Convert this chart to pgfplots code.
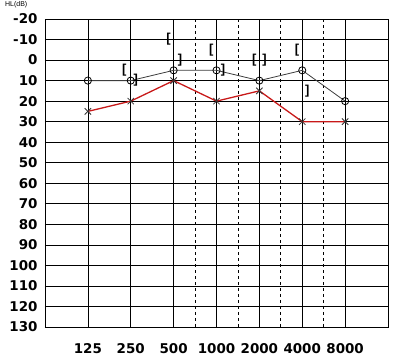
\documentclass[border=0pt]{standalone}
\usepackage{pgfplots}
\pgfplotsset{compat=1.18}
\usepackage{fontspec}
\setmainfont{Liberation Sans}
\newfontfamily\tickfont{DejaVu Sans}
\definecolor{rline}{RGB}{200,25,25}
\definecolor{gline}{RGB}{60,60,60}
\begin{document}
\begin{tikzpicture}
\useasboundingbox (0,0) rectangle (400bp,363bp);
\node[anchor=north west, font=\fontsize{7}{8}\selectfont, inner sep=0pt] at (5bp,362bp) {HL(dB)};
\begin{axis}[
  at={(45bp,36bp)}, anchor=south west,
  scale only axis, width=343bp, height=308bp,
  xmin=-1, xmax=7, ymin=-20, ymax=130,
  y dir=reverse,
  xtick={0,...,6},
  xticklabels={125,250,500,1000,2000,4000,8000},
  ytick={-20,-10,...,130},
  extra x ticks={2.5,3.5,4.5,5.5},
  extra x tick labels={},
  extra x tick style={grid style={dashed, black, line width=0.7pt}, major tick length=0pt},
  grid=major,
  grid style={black, line width=0.7pt},
  axis line style={black, line width=0.8pt},
  major tick length=0pt,
  tick label style={font=\fontsize{13.5}{16}\selectfont\tickfont\bfseries},
  /pgf/number format/assume math mode=true,
  xticklabel style={yshift=-13bp},
  yticklabel style={xshift=-4bp},
]
\addplot[gline, line width=0.8pt, mark=o, mark size=3.6pt, mark options={solid, black, line width=0.8pt}] coordinates {
(0,10) (1,10) (2,5) (3,5) (4,10) (5,5) (6,20)};
\addplot[rline, line width=1.3pt, mark=x, mark size=4.5pt, mark options={black!80, line width=0.8pt}] coordinates {
(0,25) (1,20) (2,10) (3,20) (4,15) (5,30) (6,30)};
\addplot[only marks, mark=text, text mark={\fontsize{13}{14}\selectfont\bfseries [}] coordinates {
(0.85,5) (1.88,-10) (2.88,-5) (3.88,0) (4.88,-5)};
\addplot[only marks, mark=text, text mark={\fontsize{13}{14}\selectfont\bfseries ]}] coordinates {
(1.12,10) (2.15,0) (3.15,5) (4.12,0) (5.12,15)};
\end{axis}
\end{tikzpicture}
\end{document}
